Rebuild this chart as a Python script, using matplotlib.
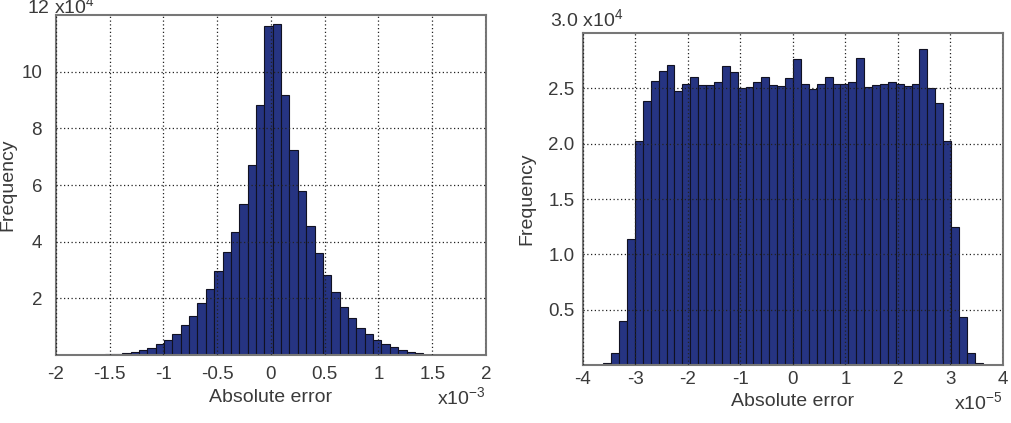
import numpy as np
import matplotlib
matplotlib.use("Agg")
import matplotlib.pyplot as plt

plt.rcParams['font.family'] = ['Liberation Sans', 'DejaVu Sans']
plt.rcParams['mathtext.fontset'] = 'custom'
plt.rcParams['mathtext.rm'] = 'Liberation Sans'
plt.rcParams['mathtext.it'] = 'Liberation Sans'
plt.rcParams['axes.unicode_minus'] = False

# left histogram: x in units of 1e-3, counts in units of 1e4
left_start = -1.540
left_width = 0.0778
left_counts = [0.02, 0.04, 0.08, 0.12, 0.17, 0.26, 0.38, 0.53, 0.75, 1.05,
               1.38, 1.82, 2.33, 2.96, 3.65, 4.35, 5.34, 6.69, 8.84, 11.6,
               11.69, 9.17, 7.22, 5.79, 4.54, 3.59, 2.82, 2.22, 1.69, 1.32,
               0.95, 0.75, 0.54, 0.38, 0.27, 0.18, 0.12, 0.07]
left_xticks = [-2, -1.5, -1, -0.5, 0, 0.5, 1, 1.5, 2]
left_xlabels = ['-2', '-1.5', '-1', '-0.5', '0', '0.5', '1', '1.5', '2']
left_yticks = [2, 4, 6, 8, 10]

# right histogram: x in units of 1e-5, counts in units of 1e4
right_start = -3.612
right_width = 0.1505
right_counts = [0.02, 0.11, 0.40, 1.14,
                2.02, 2.39, 2.57, 2.66, 2.71, 2.48, 2.54, 2.60, 2.53, 2.53,
                2.555, 2.70, 2.65, 2.505, 2.51, 2.555, 2.60, 2.53, 2.52, 2.59,
                2.765, 2.54, 2.49, 2.54, 2.60, 2.54, 2.54, 2.56, 2.77, 2.515,
                2.53, 2.54, 2.56, 2.54, 2.52, 2.54, 2.855, 2.50, 2.37, 2.02,
                1.25, 0.43, 0.11, 0.015]
right_xticks = [-4, -3, -2, -1, 0, 1, 2, 3, 4]
right_yticks = [0.5, 1.0, 1.5, 2.0, 2.5]

bar_color = '#263482'
text_color = '#3a3a3a'

fig = plt.figure(figsize=(10.12, 4.23), dpi=100)
W, H = 1012, 423
ax1 = fig.add_axes([56 / W, (H - 355) / H, 430 / W, 340 / H])
ax2 = fig.add_axes([583 / W, (H - 365) / H, 420 / W, 332 / H])


def draw(ax, start, width, counts, xlim, ylim, xticks, xlabels, yticks, ylabels,
         top_text, exp_text, xpad, ypad, xlab_y, ylab_x, top_xy):
    edges = start + width * np.arange(len(counts))
    ax.bar(edges, counts, width=width, align='edge', color=bar_color,
           edgecolor='#111122', linewidth=0.8, zorder=1)
    ax.set_xlim(*xlim)
    ax.set_ylim(*ylim)
    ax.set_xticks(xticks)
    ax.set_xticklabels(xlabels)
    ax.set_yticks(yticks)
    ax.set_yticklabels(ylabels)
    ax.grid(True, color='#222222', linestyle=(0, (1, 2)), linewidth=0.9)
    ax.set_axisbelow(False)
    ax.tick_params(length=0, labelsize=13.5, colors=text_color)
    ax.tick_params(axis='x', pad=xpad)
    ax.tick_params(axis='y', pad=ypad)
    for s in ax.spines.values():
        s.set_color('#777777')
        s.set_linewidth(1.5)
    ax.set_xlabel('Absolute error', fontsize=14, color=text_color)
    ax.set_ylabel('Frequency', fontsize=14, color=text_color)
    ax.xaxis.set_label_coords(0.5, xlab_y)
    ax.yaxis.set_label_coords(ylab_x, 0.5)
    ax.xaxis.label.set_va('center')
    ax.yaxis.label.set_va('center')
    ax.text(1.0, xlab_y, exp_text, transform=ax.transAxes, ha='right', va='center',
            fontsize=14, color=text_color)
    ax.text(top_xy[0], top_xy[1], top_text, transform=ax.transAxes, ha='left',
            va='center', fontsize=14, color=text_color)


draw(ax1, left_start, left_width, left_counts, (-2, 2), (0, 12),
     left_xticks, left_xlabels, left_yticks, [str(v) for v in left_yticks],
     '12 x10$^{4}$', 'x10$^{-3}$', 8, 10, -0.124, -0.112, (-0.067, 1.025))
draw(ax2, right_start, right_width, right_counts, (-4, 4), (0, 3.0),
     right_xticks, [str(v) for v in right_xticks], right_yticks,
     ['%.1f' % v for v in right_yticks], '3.0 x10$^{4}$', 'x10$^{-5}$',
     4, 6, -0.111, -0.133, (-0.079, 1.042))

fig.savefig('out.png', dpi=100)
